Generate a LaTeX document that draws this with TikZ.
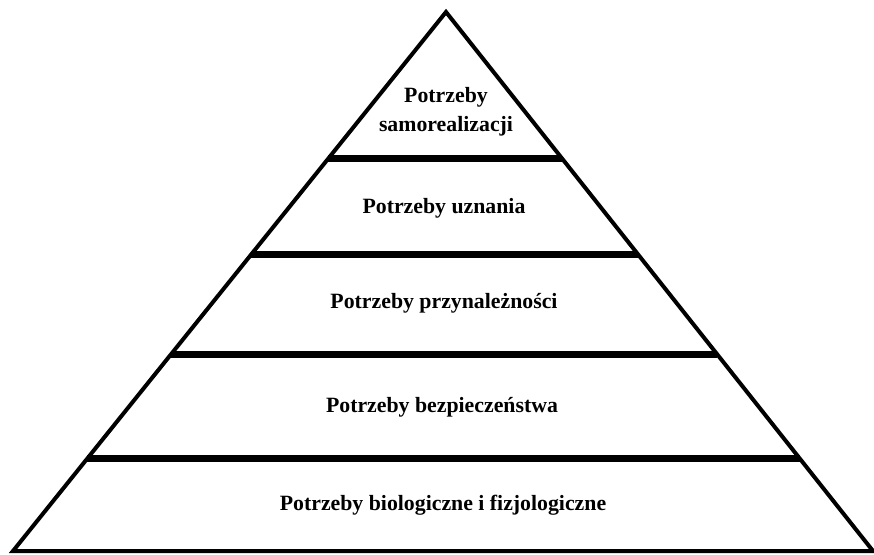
\documentclass[tikz,border=0pt]{standalone}
\usepackage{fontspec}
\setmainfont{Liberation Serif}
\usetikzlibrary{calc}
\tikzset{
  outline/.style={line width=4pt, line join=miter, miter limit=20},
  divider/.style={line width=6.5pt},
  label/.style={font=\fontsize{21.8}{29}\selectfont\bfseries, align=center, inner sep=0pt}
}
\begin{document}
\begin{tikzpicture}[x=1pt,y=-1pt]
\useasboundingbox (0,0) rectangle (874,554);
\coordinate (apex) at (446,12);
\coordinate (bl) at (13,551);
\coordinate (br) at (873,551);
\draw[outline] (apex) -- (bl) -- (br) -- cycle;
\foreach \t/\n in {0.272/a,0.45/b,0.635/c,0.828/d}{
  \coordinate (l\n) at ($(apex)!\t!(bl)$);
  \coordinate (r\n) at ($(apex)!\t!(br)$);
  \draw[divider] (l\n) -- (r\n);
}
\node[label] (n1) at (446,112) {Potrzeby\\samorealizacji};
\node[label] (n2) at (444,208) {Potrzeby uznania};
\node[label] (n3) at (444,303) {Potrzeby przynależności};
\node[label] (n4) at (442,407) {Potrzeby bezpieczeństwa};
\node[label] (n5) at (443,505) {Potrzeby biologiczne i fizjologiczne};
\end{tikzpicture}
\end{document}
